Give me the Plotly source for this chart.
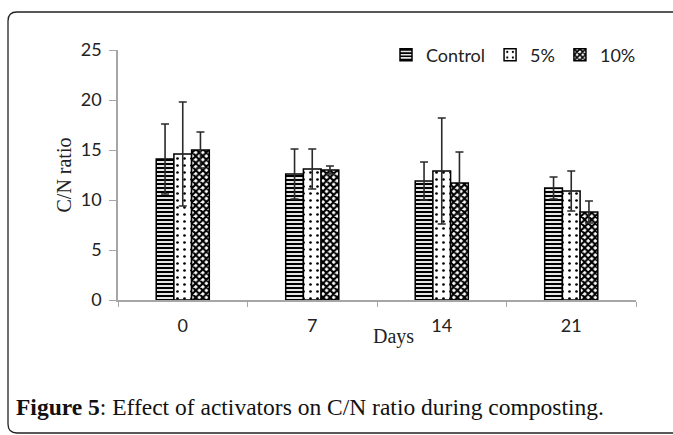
import plotly.graph_objects as go

days = ["0", "7", "14", "21"]
series_names = ["Control", "5%", "10%"]
control = [14.1, 12.6, 11.9, 11.2]
five = [14.6, 13.1, 12.9, 10.9]
ten = [15.0, 13.0, 11.7, 8.8]
control_err = [3.5, 2.5, 1.9, 1.1]
five_err = [5.2, 2.0, 5.3, 2.0]
ten_err = [1.8, 0.4, 3.1, 1.1]
y_ticks = [0, 5, 10, 15, 20, 25]

W, H = 673, 435
L, R, T, B = 118, 636, 50, 300


def px(x):
    return (x - L) / (R - L)


def py(y):
    return (B - y) / (B - T)


patterns = [
    dict(shape="-", fgcolor="black", bgcolor="white", size=4, solidity=0.55, fillmode="replace"),
    dict(shape=".", fgcolor="black", bgcolor="white", size=7, solidity=0.12, fillmode="replace"),
    dict(shape="x", fgcolor="black", bgcolor="white", size=5, solidity=0.65, fillmode="replace"),
]
values = [control, five, ten]
errors = [control_err, five_err, ten_err]

fig = go.Figure()
for name, vals, errs, pat in zip(series_names, values, errors, patterns):
    fig.add_trace(go.Bar(
        x=days, y=vals, name=name,
        marker=dict(color="white", line=dict(color="black", width=1.5), pattern=pat),
        error_y=dict(type="data", array=errs, visible=True, color="#2a2a2a", thickness=1.6, width=4),
    ))

serif = "Liberation Serif"
sans = "Lato"

fig.update_layout(
    width=W, height=H,
    margin=dict(l=L, r=W - R, t=T, b=H - B, autoexpand=False),
    paper_bgcolor="white", plot_bgcolor="white",
    barmode="group", bargap=0.59, bargroupgap=0,
    font=dict(family=sans, size=18, color="#222222"),
    showlegend=True,
    legend=dict(orientation="h", x=px(386), y=py(55), xanchor="left", yanchor="middle",
                font=dict(family=sans, size=18, color="#222222"),
                itemwidth=30, bgcolor="rgba(0,0,0,0)", tracegroupgap=0),
    xaxis=dict(
        type="category", showline=True, linecolor="#a6a6a6", linewidth=1.5,
        ticks="outside", tickson="boundaries", ticklen=5, tickcolor="#a6a6a6", tickwidth=1.2,
        showgrid=False, tickfont=dict(family=sans, size=18, color="#222222"),
        ticklabelstandoff=9,
    ),
    yaxis=dict(
        range=[0, 25], tickvals=y_ticks, showline=True, linecolor="#a6a6a6", linewidth=1.5,
        ticks="outside", ticklen=7, tickcolor="#a6a6a6", tickwidth=1.2,
        showgrid=False, zeroline=False, tickfont=dict(family=sans, size=18, color="#222222"),
        ticklabelstandoff=4,
        title=dict(text="C/N ratio", font=dict(family=serif, size=20, color="#222222"), standoff=4),
    ),
)

fig.add_annotation(x=px(393), y=py(336), xref="paper", yref="paper", text="Days",
                   showarrow=False, font=dict(family=serif, size=20, color="#222222"),
                   xanchor="center", yanchor="middle")

fig.add_annotation(x=px(15), y=py(407), xref="paper", yref="paper",
                   text="<b>Figure 5</b>: Effect of activators on C/N ratio during composting.",
                   showarrow=False, font=dict(family=serif, size=23.5, color="#111111"),
                   xanchor="left", yanchor="middle", borderpad=0)

r = 9
path = (f"M {px(690)},{py(12)} L {px(8 + r)},{py(12)} "
        f"Q {px(8)},{py(12)} {px(8)},{py(12 + r)} "
        f"L {px(8)},{py(433 - r)} Q {px(8)},{py(433)} {px(8 + r)},{py(433)} "
        f"L {px(690)},{py(433)}")
fig.add_shape(type="path", path=path, xref="paper", yref="paper",
              line=dict(color="#222222", width=1.3), layer="above")

fig.write_html("out.html", config={"displayModeBar": False},
               post_script="document.body.style.margin='0';document.body.style.overflow='hidden';")
